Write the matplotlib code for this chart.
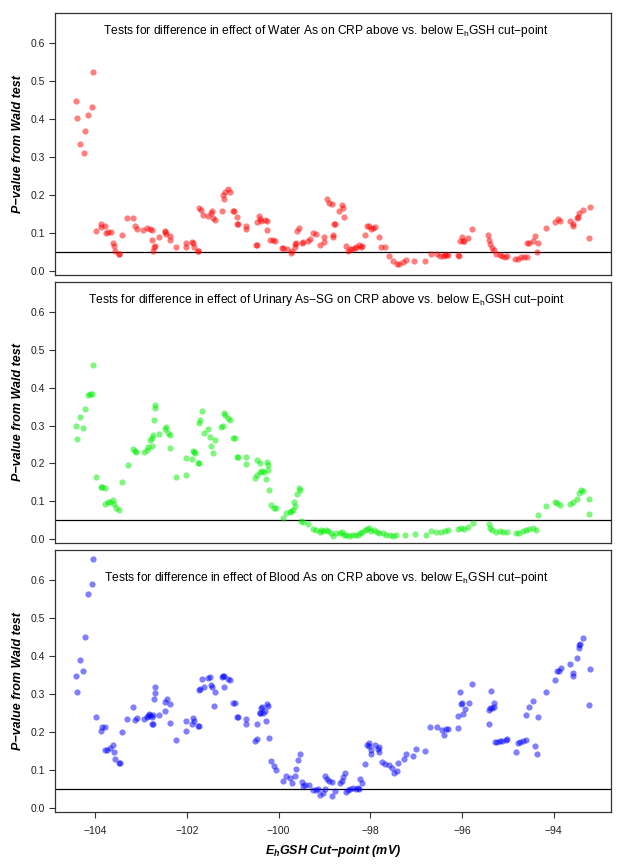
import matplotlib
matplotlib.use("Agg")
import matplotlib.pyplot as plt

plt.rcParams['font.family'] = ['Liberation Sans', 'DejaVu Sans']
plt.rcParams['mathtext.fontset'] = 'custom'
plt.rcParams['mathtext.rm'] = 'Liberation Sans'
plt.rcParams['mathtext.it'] = 'Liberation Sans:italic:bold'
plt.rcParams['mathtext.bf'] = 'Liberation Sans:bold'

# P-values from Wald test, by EhGSH cut-point (mV)
water_x = [-104.41, -104.40, -104.34, -104.25, -104.23, -104.15, -104.06, -104.04, -103.99, -103.88,
           -103.88, -103.78, -103.77, -103.72, -103.65, -103.62, -103.59, -103.57, -103.49, -103.47,
           -103.41, -103.30, -103.17, -103.13, -103.08, -102.95, -102.86, -102.81, -102.77, -102.76,
           -102.74, -102.71, -102.69, -102.61, -102.48, -102.47, -102.45, -102.37, -102.36, -102.24,
           -102.02, -102.01, -101.88, -101.86, -101.85, -101.76, -101.75, -101.73, -101.69, -101.65,
           -101.53, -101.47, -101.46, -101.42, -101.39, -101.24, -101.21, -101.20, -101.17, -101.10,
           -101.07, -100.99, -100.97, -100.91, -100.91, -100.88, -100.71, -100.70, -100.50, -100.47,
           -100.46, -100.42, -100.40, -100.39, -100.29, -100.26, -100.25, -100.18, -100.13, -100.07,
           -99.93, -99.90, -99.81, -99.74, -99.71, -99.65, -99.64, -99.61, -99.59, -99.55,
           -99.49, -99.47, -99.36, -99.32, -99.24, -99.18, -99.09, -99.01, -99.00, -98.94,
           -98.89, -98.84, -98.82, -98.81, -98.79, -98.76, -98.68, -98.61, -98.60, -98.57,
           -98.52, -98.48, -98.45, -98.39, -98.34, -98.31, -98.25, -98.21, -98.18, -98.12,
           -98.07, -98.02, -97.98, -97.94, -97.89, -97.81, -97.77, -97.67, -97.60, -97.50,
           -97.41, -97.38, -97.28, -97.22, -97.04, -96.80, -96.67, -96.54, -96.49, -96.42,
           -96.38, -96.34, -96.30, -96.08, -96.07, -96.04, -96.00, -95.98, -95.95, -95.87,
           -95.78, -95.43, -95.40, -95.38, -95.34, -95.31, -95.26, -95.18, -95.13, -95.06,
           -95.01, -94.84, -94.77, -94.71, -94.64, -94.59, -94.59, -94.54, -94.46, -94.41,
           -94.36, -94.34, -94.17, -93.97, -93.91, -93.86, -93.64, -93.57, -93.57, -93.49,
           -93.47, -93.44, -93.37, -93.22, -93.21]
water_p = [0.448, 0.402, 0.334, 0.312, 0.370, 0.411, 0.433, 0.525, 0.105, 0.125,
           0.117, 0.120, 0.099, 0.102, 0.104, 0.075, 0.067, 0.054, 0.046, 0.046,
           0.094, 0.139, 0.141, 0.118, 0.112, 0.109, 0.113, 0.111, 0.108, 0.082,
           0.054, 0.063, 0.066, 0.089, 0.102, 0.106, 0.098, 0.093, 0.081, 0.064,
           0.075, 0.064, 0.076, 0.074, 0.063, 0.054, 0.052, 0.166, 0.161, 0.147,
           0.146, 0.152, 0.157, 0.139, 0.134, 0.159, 0.200, 0.189, 0.209, 0.216,
           0.208, 0.159, 0.159, 0.142, 0.124, 0.124, 0.119, 0.112, 0.070, 0.070,
           0.130, 0.146, 0.138, 0.131, 0.134, 0.131, 0.108, 0.082, 0.082, 0.080,
           0.061, 0.060, 0.057, 0.048, 0.054, 0.064, 0.071, 0.075, 0.105, 0.113,
           0.075, 0.077, 0.080, 0.085, 0.099, 0.098, 0.068, 0.076, 0.090, 0.190,
           0.178, 0.176, 0.089, 0.096, 0.124, 0.124, 0.157, 0.175, 0.166, 0.143,
           0.066, 0.054, 0.057, 0.057, 0.061, 0.064, 0.068, 0.063, 0.066, 0.095,
           0.120, 0.119, 0.111, 0.114, 0.117, 0.089, 0.064, 0.063, 0.039, 0.027,
           0.019, 0.020, 0.025, 0.030, 0.026, 0.026, 0.045, 0.045, 0.041, 0.039,
           0.043, 0.042, 0.042, 0.043, 0.039, 0.080, 0.090, 0.078, 0.080, 0.088,
           0.110, 0.094, 0.083, 0.071, 0.062, 0.055, 0.045, 0.042, 0.039, 0.037,
           0.039, 0.033, 0.031, 0.036, 0.037, 0.037, 0.074, 0.075, 0.079, 0.092,
           0.049, 0.075, 0.113, 0.129, 0.136, 0.132, 0.132, 0.125, 0.120, 0.139,
           0.142, 0.152, 0.161, 0.087, 0.168]

urine_x = [-104.42, -104.39, -104.34, -104.26, -104.23, -104.15, -104.12, -104.06, -104.04, -103.99,
           -103.88, -103.86, -103.78, -103.78, -103.72, -103.67, -103.62, -103.59, -103.55, -103.48,
           -103.41, -103.29, -103.17, -103.14, -103.10, -102.94, -102.88, -102.85, -102.81, -102.77,
           -102.77, -102.74, -102.71, -102.70, -102.69, -102.61, -102.48, -102.45, -102.41, -102.37,
           -102.36, -102.23, -102.02, -102.01, -101.88, -101.87, -101.84, -101.83, -101.76, -101.73,
           -101.73, -101.71, -101.68, -101.63, -101.54, -101.49, -101.47, -101.44, -101.39, -101.25,
           -101.21, -101.20, -101.17, -101.10, -101.07, -100.99, -100.96, -100.91, -100.88, -100.70,
           -100.70, -100.51, -100.47, -100.46, -100.41, -100.40, -100.36, -100.32, -100.27, -100.24,
           -100.25, -100.23, -100.22, -100.16, -100.11, -100.05, -99.90, -99.83, -99.76, -99.72,
           -99.69, -99.66, -99.64, -99.60, -99.56, -99.54, -99.52, -99.47, -99.36, -99.24,
           -99.18, -99.10, -99.07, -99.03, -98.97, -98.92, -98.85, -98.81, -98.74, -98.67,
           -98.61, -98.58, -98.54, -98.47, -98.39, -98.34, -98.27, -98.22, -98.17, -98.12,
           -98.07, -98.03, -97.98, -97.91, -97.86, -97.80, -97.73, -97.65, -97.58, -97.51,
           -97.43, -97.25, -97.03, -96.78, -96.67, -96.56, -96.45, -96.38, -96.31, -96.09,
           -96.02, -95.95, -95.87, -95.76, -95.41, -95.38, -95.34, -95.25, -95.18, -95.11,
           -95.02, -94.82, -94.75, -94.68, -94.60, -94.53, -94.46, -94.38, -94.35, -94.17,
           -93.98, -93.93, -93.86, -93.64, -93.57, -93.50, -93.44, -93.40, -93.37, -93.22,
           -93.22]
urine_p = [0.298, 0.264, 0.323, 0.294, 0.343, 0.382, 0.383, 0.384, 0.460, 0.164,
           0.137, 0.139, 0.136, 0.094, 0.099, 0.097, 0.104, 0.093, 0.083, 0.078,
           0.150, 0.195, 0.238, 0.233, 0.231, 0.231, 0.235, 0.244, 0.263, 0.266,
           0.247, 0.274, 0.314, 0.347, 0.353, 0.278, 0.292, 0.295, 0.281, 0.275,
           0.240, 0.165, 0.215, 0.170, 0.211, 0.234, 0.231, 0.227, 0.200, 0.202,
           0.307, 0.314, 0.339, 0.281, 0.292, 0.270, 0.247, 0.227, 0.262, 0.297,
           0.298, 0.332, 0.327, 0.320, 0.316, 0.266, 0.266, 0.218, 0.218, 0.216,
           0.198, 0.161, 0.170, 0.209, 0.202, 0.178, 0.181, 0.178, 0.160, 0.183,
           0.203, 0.196, 0.129, 0.090, 0.083, 0.081, 0.056, 0.069, 0.072, 0.073,
           0.078, 0.097, 0.087, 0.120, 0.135, 0.130, 0.047, 0.045, 0.039, 0.027,
           0.024, 0.018, 0.024, 0.021, 0.025, 0.021, 0.017, 0.008, 0.015, 0.017,
           0.018, 0.012, 0.012, 0.008, 0.010, 0.012, 0.012, 0.017, 0.018, 0.024,
           0.027, 0.030, 0.021, 0.024, 0.020, 0.017, 0.015, 0.012, 0.010, 0.008,
           0.010, 0.012, 0.014, 0.012, 0.021, 0.020, 0.019, 0.021, 0.024, 0.027,
           0.030, 0.027, 0.032, 0.043, 0.040, 0.030, 0.025, 0.018, 0.021, 0.019,
           0.018, 0.015, 0.017, 0.021, 0.024, 0.027, 0.030, 0.025, 0.065, 0.087,
           0.097, 0.096, 0.091, 0.094, 0.097, 0.106, 0.122, 0.129, 0.126, 0.106,
           0.066]

blood_x = [-104.42, -104.39, -104.34, -104.26, -104.23, -104.15, -104.06, -104.04, -103.99, -103.88,
           -103.86, -103.78, -103.78, -103.74, -103.67, -103.62, -103.59, -103.56, -103.48, -103.46,
           -103.41, -103.30, -103.17, -103.14, -103.08, -102.94, -102.88, -102.85, -102.82, -102.80,
           -102.77, -102.75, -102.76, -102.74, -102.71, -102.69, -102.69, -102.61, -102.48, -102.47,
           -102.43, -102.36, -102.36, -102.23, -102.02, -102.02, -101.88, -101.87, -101.84, -101.76,
           -101.73, -101.73, -101.71, -101.68, -101.63, -101.54, -101.49, -101.48, -101.46, -101.41,
           -101.39, -101.24, -101.21, -101.19, -101.19, -101.10, -101.07, -100.99, -100.96, -100.91,
           -100.88, -100.70, -100.70, -100.51, -100.47, -100.46, -100.41, -100.39, -100.36, -100.40,
           -100.34, -100.29, -100.27, -100.25, -100.23, -100.22, -100.16, -100.11, -100.05, -99.90,
           -99.83, -99.76, -99.70, -99.65, -99.63, -99.58, -99.54, -99.50, -99.47, -99.43,
           -99.34, -99.25, -99.19, -99.14, -99.09, -99.03, -98.99, -98.99, -98.95, -98.90,
           -98.83, -98.83, -98.78, -98.67, -98.61, -98.60, -98.56, -98.52, -98.49, -98.44,
           -98.38, -98.32, -98.27, -98.25, -98.23, -98.17, -98.12, -98.07, -98.03, -98.02,
           -97.98, -97.98, -97.89, -97.83, -97.82, -97.80, -97.74, -97.67, -97.59, -97.52,
           -97.49, -97.42, -97.40, -97.27, -97.22, -97.06, -97.01, -96.80, -96.69, -96.54,
           -96.43, -96.40, -96.35, -96.31, -96.08, -96.08, -96.05, -96.02, -95.99, -95.98,
           -95.94, -95.85, -95.78, -95.42, -95.42, -95.39, -95.37, -95.34, -95.31, -95.30,
           -95.29, -95.23, -95.17, -95.12, -95.05, -95.01, -94.82, -94.77, -94.73, -94.68,
           -94.60, -94.60, -94.54, -94.46, -94.41, -94.37, -94.34, -94.17, -93.98, -93.92,
           -93.89, -93.85, -93.64, -93.57, -93.57, -93.49, -93.44, -93.44, -93.43, -93.37,
           -93.22, -93.21]
blood_p = [0.348, 0.304, 0.388, 0.360, 0.449, 0.563, 0.590, 0.656, 0.239, 0.201,
           0.213, 0.213, 0.153, 0.153, 0.156, 0.166, 0.147, 0.129, 0.118, 0.118,
           0.199, 0.234, 0.264, 0.230, 0.235, 0.234, 0.238, 0.241, 0.247, 0.243,
           0.240, 0.243, 0.220, 0.220, 0.287, 0.302, 0.318, 0.244, 0.255, 0.278,
           0.287, 0.274, 0.222, 0.178, 0.203, 0.227, 0.219, 0.236, 0.229, 0.215,
           0.215, 0.310, 0.312, 0.340, 0.319, 0.341, 0.345, 0.324, 0.318, 0.269,
           0.304, 0.344, 0.348, 0.348, 0.317, 0.338, 0.336, 0.276, 0.276, 0.239,
           0.239, 0.234, 0.221, 0.176, 0.182, 0.221, 0.250, 0.262, 0.265, 0.249,
           0.249, 0.254, 0.227, 0.273, 0.267, 0.184, 0.122, 0.109, 0.100, 0.070,
           0.083, 0.079, 0.064, 0.083, 0.101, 0.125, 0.140, 0.067, 0.057, 0.060,
           0.059, 0.046, 0.046, 0.050, 0.032, 0.038, 0.048, 0.083, 0.076, 0.070,
           0.067, 0.030, 0.044, 0.064, 0.070, 0.081, 0.090, 0.041, 0.046, 0.050,
           0.052, 0.048, 0.052, 0.050, 0.076, 0.066, 0.114, 0.164, 0.169, 0.162,
           0.151, 0.140, 0.164, 0.155, 0.146, 0.160, 0.120, 0.115, 0.111, 0.105,
           0.092, 0.096, 0.118, 0.129, 0.140, 0.137, 0.155, 0.150, 0.212, 0.212,
           0.205, 0.190, 0.208, 0.208, 0.210, 0.241, 0.306, 0.273, 0.275, 0.247,
           0.259, 0.275, 0.325, 0.219, 0.258, 0.262, 0.308, 0.262, 0.276, 0.264,
           0.173, 0.174, 0.175, 0.176, 0.177, 0.181, 0.147, 0.171, 0.173, 0.175,
           0.178, 0.245, 0.264, 0.282, 0.162, 0.142, 0.238, 0.304, 0.336, 0.359,
           0.360, 0.367, 0.378, 0.354, 0.346, 0.395, 0.422, 0.429, 0.432, 0.446,
           0.270, 0.366]

titles = ["Tests for difference in effect of Water As on CRP above vs. below E$_\\mathrm{h}$GSH cut\u2212point",
          "Tests for difference in effect of Urinary As\u2212SG on CRP above vs. below E$_\\mathrm{h}$GSH cut\u2212point",
          "Tests for difference in effect of Blood As on CRP above vs. below E$_\\mathrm{h}$GSH cut\u2212point"]
title_y = [0.632, 0.632, 0.606]
colors = ["#FF0000", "#00EE00", "#0000FF"]
yticks = [0.0, 0.1, 0.2, 0.3, 0.4, 0.5, 0.6]
xticks = [-104, -102, -100, -98, -96, -94]

fig = plt.figure(figsize=(6.24, 8.68), dpi=100)
panels = [(water_x, water_p), (urine_x, urine_p), (blood_x, blood_p)]
tops = [12.7, 281.7, 549.7]
bots = [275.3, 543.3, 811.7]
W, H = 624.0, 868.0

for i, (xs, ps) in enumerate(panels):
    ax = fig.add_axes([55.3 / W, 1 - bots[i] / H, (611 - 55.3) / W, (bots[i] - tops[i]) / H])
    ax.scatter(xs, ps, s=20, c=colors[i], alpha=0.5, linewidths=0, zorder=3)
    ax.axhline(0.05, color="black", lw=0.9, zorder=2)
    ax.set_xlim(-104.87, -92.75)
    ax.set_ylim(-0.011, 0.68)
    ax.set_yticks(yticks)
    ax.set_yticklabels(["%.1f" % t for t in yticks])
    ax.tick_params(axis="y", direction="out", length=4.5, width=0.8, labelsize=7.5,
                   colors="#333333", labelcolor="#222222", pad=3)
    for sp in ax.spines.values():
        sp.set_color("#333333")
        sp.set_linewidth(0.9)
    if i < 2:
        ax.set_xticks([])
    else:
        ax.set_xticks(xticks)
        ax.set_xticklabels(["\u2212%d" % abs(t) for t in xticks])
        ax.tick_params(axis="x", direction="out", length=4, width=0.8, labelsize=7.5,
                       colors="#333333", labelcolor="#222222", pad=6)
        ax.set_xlabel("$E_h$GSH Cut\u2212point (mV)", fontsize=9, fontweight="bold",
                      fontstyle="italic", labelpad=5)
    ax.text(-98.97, title_y[i], titles[i], ha="center", va="center", fontsize=8.65)
    fig.text(18 / W, 1 - (tops[i] + bots[i]) / 2 / H, "P\u2212value from Wald test", rotation=90,
             ha="center", va="center", fontsize=9, fontweight="bold", fontstyle="italic")

fig.savefig("out.png", dpi=100)
